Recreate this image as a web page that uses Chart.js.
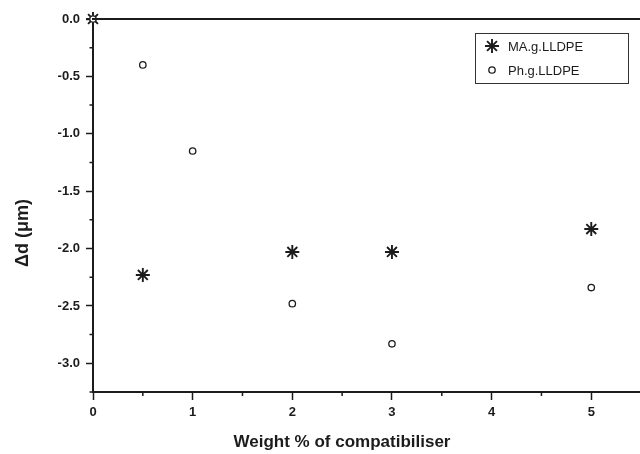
<!DOCTYPE html>
<html>
<head>
<meta charset="utf-8">
<script src="https://cdn.jsdelivr.net/npm/chart.js@4"></script>
<style>
  html, body { margin: 0; padding: 0; background: #fff; overflow: hidden; }
  #wrap { width: 650px; height: 454px; }
</style>
</head>
<body>
<div id="wrap"><canvas id="chart" width="650" height="454"></canvas></div>
<script>
// data
const seriesNames = ['MA.g.LLDPE', 'Ph.g.LLDPE'];
const maWeight = [0, 0.5, 2, 3, 5];
const maDelta = [0, -2.23, -2.03, -2.03, -1.83];
const phWeight = [0, 0.5, 1, 2, 3, 5];
const phDelta = [0, -0.40, -1.15, -2.48, -2.83, -2.34];
const xTitle = 'Weight % of compatibiliser';
const yTitle = 'Δd (μm)';

const ink = '#1c1c1c';
const tickFont = { family: "'Liberation Sans', Arial, sans-serif", size: 13, weight: 'bold' };

function pairs(xs, ys) {
    return xs.map((x, i) => ({ x: x, y: ys[i] }));
}

const isMajor = (v, step) => Math.abs(v / step - Math.round(v / step)) < 1e-6;

// minor ticks are shorter than the major ones, top frame line, axis titles, boxed legend
const decorations = {
    id: 'decorations',
    afterDraw(chart) {
        const ctx = chart.ctx;
        const area = chart.chartArea;
        const xs = chart.scales.x, ys = chart.scales.y;
        ctx.save();
        ctx.strokeStyle = ink;
        ctx.lineWidth = 1.5;
        ctx.beginPath();
        ys.ticks.forEach(t => {
            if (isMajor(t.value, 0.5)) return;
            const p = ys.getPixelForValue(t.value);
            ctx.moveTo(area.left - 3.5, p);
            ctx.lineTo(area.left, p);
        });
        xs.ticks.forEach(t => {
            if (isMajor(t.value, 1)) return;
            const p = xs.getPixelForValue(t.value);
            ctx.moveTo(p, area.bottom);
            ctx.lineTo(p, area.bottom + 4);
        });
        ctx.stroke();

        ctx.lineWidth = 2;
        ctx.beginPath();
        ctx.moveTo(area.left - 1, area.top);
        ctx.lineTo(area.right, area.top);
        ctx.stroke();

        // axis titles
        ctx.fillStyle = ink;
        ctx.textAlign = 'center';
        ctx.textBaseline = 'middle';
        ctx.font = "bold 17px 'Liberation Sans', Arial, sans-serif";
        ctx.fillText(xTitle, 342, 442);
        ctx.save();
        ctx.translate(23, 233);
        ctx.rotate(-Math.PI / 2);
        ctx.font = "bold 18px 'Liberation Sans', Arial, sans-serif";
        ctx.fillText(yTitle, 0, 0);
        ctx.restore();

        // legend
        const box = { left: 475, top: 33, width: 153, height: 50 };
        ctx.lineWidth = 1;
        ctx.strokeStyle = '#333';
        ctx.strokeRect(box.left + 0.5, box.top + 0.5, box.width, box.height);
        ctx.font = "13px 'Liberation Sans', Arial, sans-serif";
        ctx.textAlign = 'left';
        chart.data.datasets.forEach((ds, i) => {
            const cy = box.top + 13 + i * 24;
            ctx.strokeStyle = ds.borderColor;
            ctx.fillStyle = ds.backgroundColor;
            ctx.lineWidth = ds.borderWidth;
            Chart.helpers.drawPoint(ctx, {
                pointStyle: ds.pointStyle,
                radius: ds.pointRadius,
                rotation: 0,
                borderWidth: ds.borderWidth
            }, box.left + 17, cy);
            ctx.fillStyle = ink;
            ctx.fillText(ds.label, box.left + 33, cy + 1);
        });
        ctx.restore();
    }
};

new Chart(document.getElementById('chart'), {
    type: 'scatter',
    data: {
        datasets: [
            {
                label: seriesNames[0],
                data: pairs(maWeight, maDelta),
                pointStyle: 'star',
                pointRadius: 7,
                pointHoverRadius: 7,
                borderWidth: 1.9,
                borderColor: ink,
                backgroundColor: ink,
                order: 1,
                clip: false
            },
            {
                label: seriesNames[1],
                data: pairs(phWeight, phDelta),
                pointStyle: 'circle',
                pointRadius: 3.2,
                pointHoverRadius: 3.2,
                borderWidth: 1.3,
                borderColor: ink,
                backgroundColor: '#fff',
                order: 0,
                clip: false
            }
        ]
    },
    options: {
        responsive: false,
        animation: false,
        events: [],
        layout: { padding: { top: 19, right: 6, left: 0, bottom: 0 } },
        plugins: { legend: { display: false }, tooltip: { enabled: false } },
        scales: {
            x: {
                type: 'linear',
                min: 0,
                max: 5.5,
                afterFit: s => { s.height = 62; },
                ticks: {
                    stepSize: 0.5,
                    autoSkip: false,
                    maxRotation: 0,
                    padding: 5,
                    color: ink,
                    font: tickFont,
                    callback: v => isMajor(v, 1) ? String(Math.round(v)) : ''
                },
                grid: {
                    drawOnChartArea: false,
                    tickLength: 8,
                    tickWidth: 1.5,
                    tickColor: c => (c.tick && isMajor(c.tick.value, 1)) ? ink : 'rgba(0,0,0,0)'
                },
                border: { color: ink, width: 2 }
            },
            y: {
                type: 'linear',
                min: -3.25,
                max: 0,
                afterFit: s => { s.width = 93; },
                ticks: {
                    stepSize: 0.25,
                    autoSkip: false,
                    padding: 6,
                    color: ink,
                    font: tickFont,
                    callback: v => isMajor(v, 0.5) ? v.toFixed(1) : ''
                },
                grid: {
                    drawOnChartArea: false,
                    tickLength: 7,
                    tickWidth: 1.5,
                    tickColor: c => (c.tick && isMajor(c.tick.value, 0.5)) ? ink : 'rgba(0,0,0,0)'
                },
                border: { color: ink, width: 2 }
            }
        }
    },
    plugins: [decorations]
});
</script>
</body>
</html>
